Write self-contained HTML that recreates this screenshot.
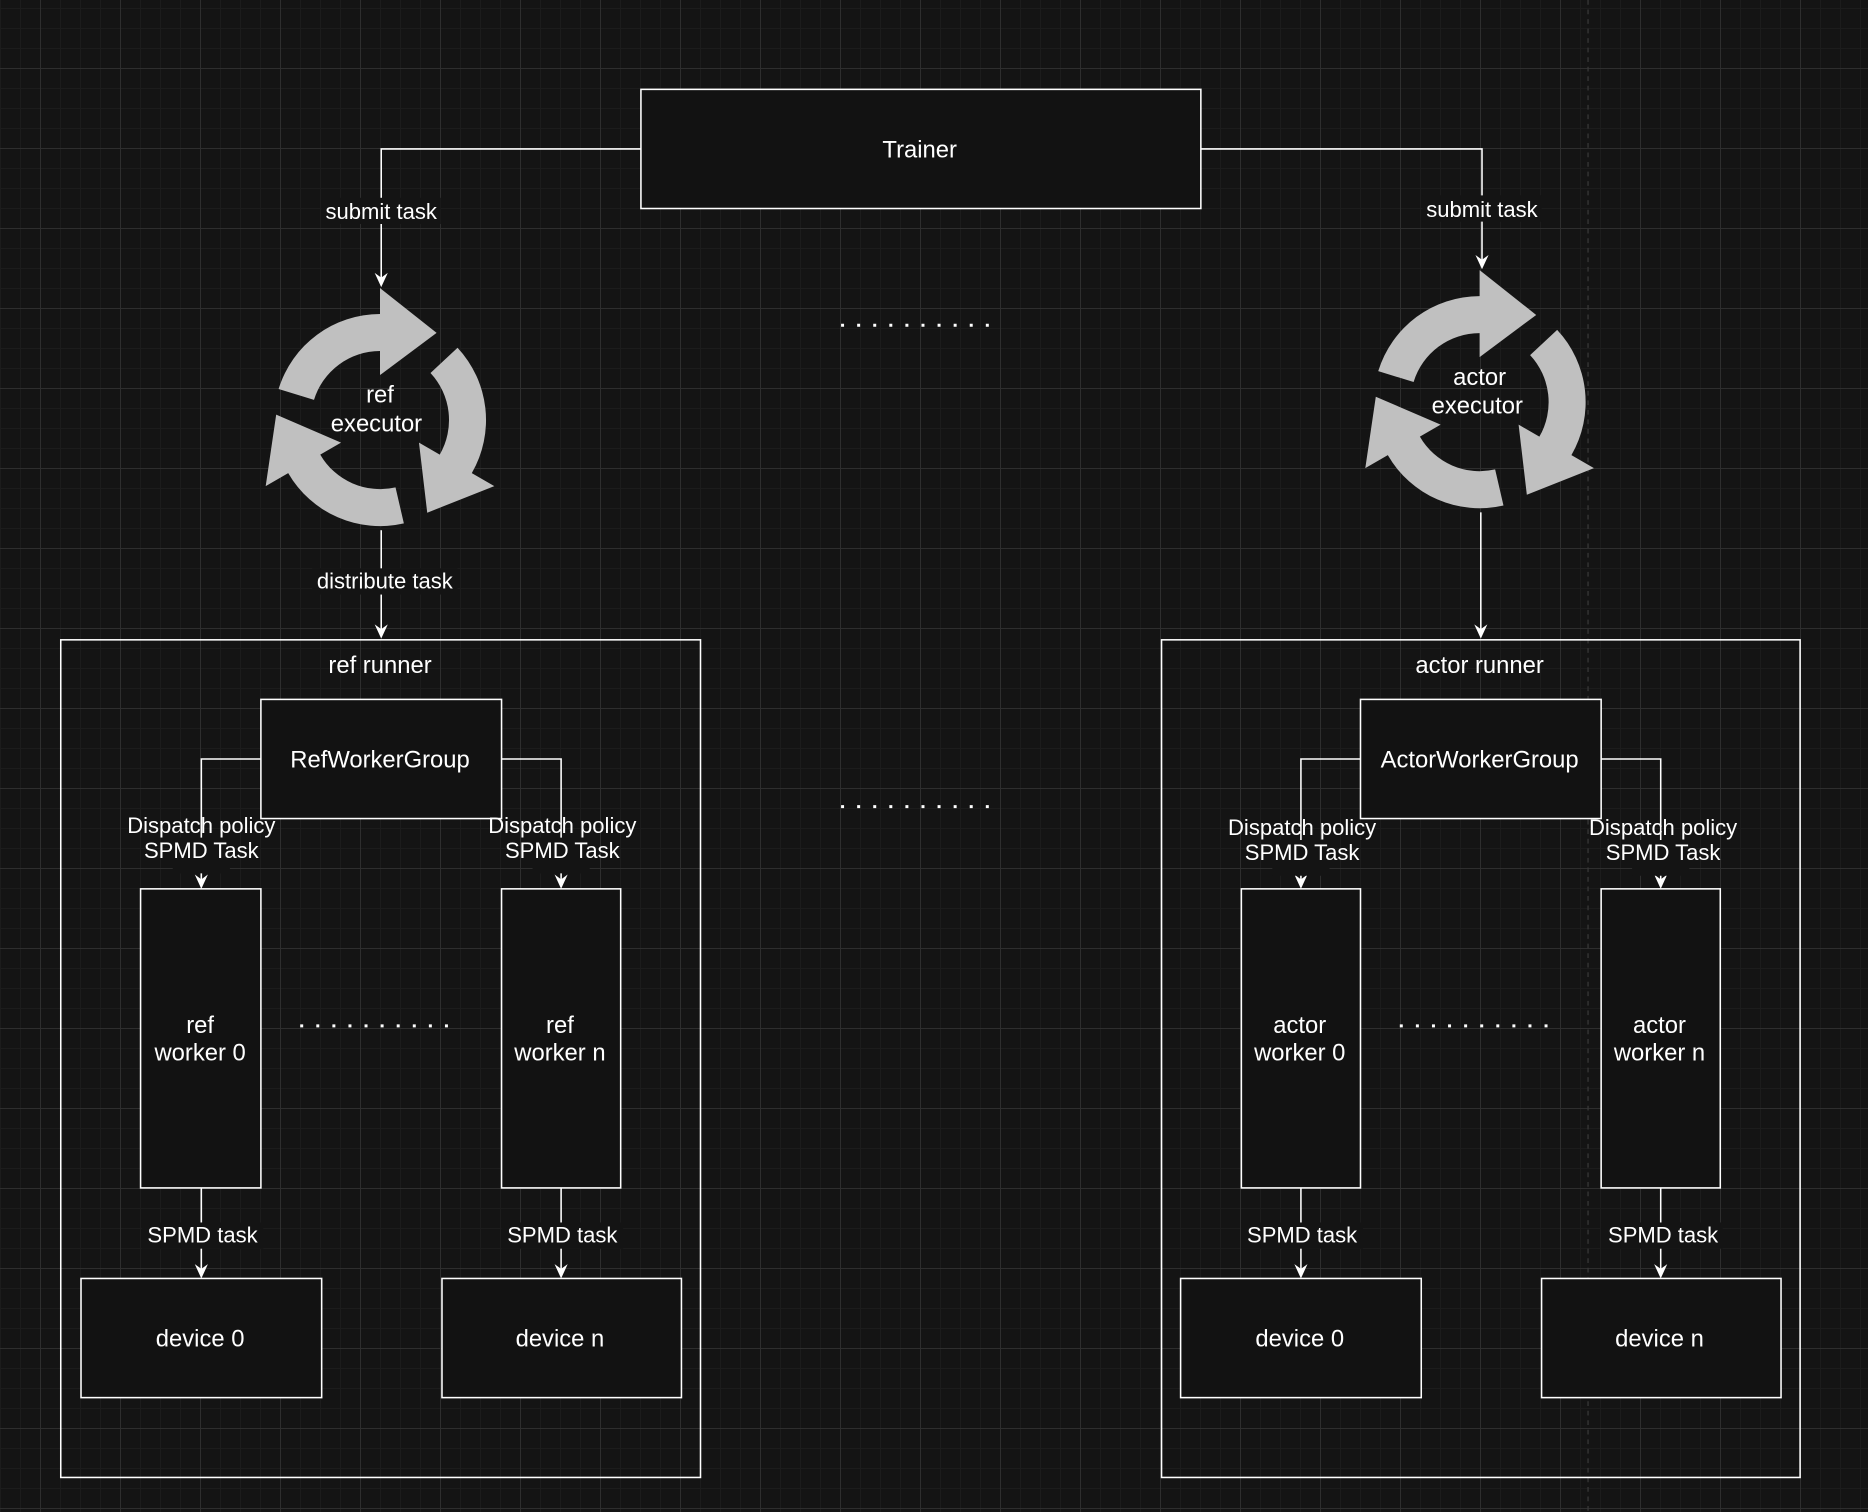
<!DOCTYPE html>
<html><head><meta charset="utf-8"><style>
html,body{margin:0;padding:0;}
body{width:1868px;height:1512px;overflow:hidden;background-color:#141414;
background-image:linear-gradient(#2e2e2e 1px,transparent 1px),linear-gradient(90deg,#2e2e2e 1px,transparent 1px),linear-gradient(#1c1c1c 1px,transparent 1px),linear-gradient(90deg,#1c1c1c 1px,transparent 1px);
background-size:80px 80px,80px 80px,20px 20px,20px 20px;
background-position:0 68px,40px 0,0 8px,0 0;}
svg{position:absolute;left:0;top:0;}
text{font-family:"Liberation Sans",Arial,sans-serif;fill:#fff;text-anchor:middle;}
</style></head><body>
<svg width="1868" height="1512" viewBox="0 0 1568 1269" preserveAspectRatio="none">
<defs>
<path id="ah" d="M0,0 L-5.5,-12 L0,-8 L5.5,-12 Z" fill="#fff"/>
<g id="cyc" fill="#c0c0c0">
<path id="seg" d="M278.6,389 A106,106 0 0 1 380,314 L380,288 L436.6,332.8 L380,375 L380,351 A69,69 0 0 0 314,399.8 Z"/>
<use href="#seg" transform="rotate(120 380 420)"/>
<use href="#seg" transform="rotate(240 380 420)"/>
</g>
</defs>
<line x1="1333" y1="0" x2="1333" y2="1269" stroke="#3a3a3a" stroke-width="1" stroke-dasharray="4 4"/>
<g fill="none" stroke="#fff" stroke-width="1.3">
<polyline points="538,125 320,125 320,238"/>
<polyline points="1008,125 1244,125 1244,223"/>
<line x1="320" y1="445" x2="320" y2="533"/>
<line x1="1243" y1="430" x2="1243" y2="533"/>
<rect x="51" y="537" width="537" height="703"/>
<rect x="975" y="537" width="536" height="703"/>
</g>
<g fill="none" stroke="#fff" stroke-width="1.3">
<polyline points="219,637 169,637 169,743"/>
<polyline points="421,637 471,637 471,743"/>
<polyline points="1142,637 1092,637 1092,743"/>
<polyline points="1344,637 1394,637 1394,743"/>
<line x1="169" y1="997" x2="169" y2="1070"/>
<line x1="471" y1="997" x2="471" y2="1070"/>
<line x1="1092" y1="997" x2="1092" y2="1070"/>
<line x1="1394" y1="997" x2="1394" y2="1070"/>
</g>
<g fill="#121212" stroke="#fff" stroke-width="1.3">
<rect x="538" y="75" width="470" height="100"/>
<rect x="219" y="587" width="202" height="100"/>
<rect x="1142" y="587" width="202" height="100"/>
<rect x="118" y="746" width="101" height="251"/>
<rect x="421" y="746" width="100" height="251"/>
<rect x="1042" y="746" width="100" height="251"/>
<rect x="1344" y="746" width="100" height="251"/>
<rect x="68" y="1073" width="202" height="100"/>
<rect x="371" y="1073" width="201" height="100"/>
<rect x="991" y="1073" width="202" height="100"/>
<rect x="1294" y="1073" width="201" height="100"/>
</g>
<use href="#ah" x="320" y="241"/>
<use href="#ah" x="1244" y="226"/>
<use href="#ah" x="320" y="536"/>
<use href="#ah" x="1243" y="536"/>
<use href="#ah" x="169" y="746"/><use href="#ah" x="471" y="746"/>
<use href="#ah" x="1092" y="746"/><use href="#ah" x="1394" y="746"/>
<use href="#ah" x="169" y="1073"/><use href="#ah" x="471" y="1073"/>
<use href="#ah" x="1092" y="1073"/><use href="#ah" x="1394" y="1073"/>
<g transform="scale(0.83941)">
<use href="#cyc"/>
<use href="#cyc" transform="translate(1099.6,-17.9)"/>
</g>
<g fill="#141414">
<rect x="270" y="166" width="100" height="22"/>
<rect x="1194" y="164" width="100" height="22"/>
<rect x="262" y="477" width="122" height="22"/>
<rect x="119" y="1026" width="102" height="22"/>
<rect x="421" y="1026" width="102" height="22"/>
<rect x="1042" y="1026" width="102" height="22"/>
<rect x="1344" y="1026" width="102" height="22"/>
<rect x="145" y="703" width="48" height="30"/>
<rect x="447" y="703" width="48" height="30"/>
<rect x="1068" y="705" width="48" height="30"/>
<rect x="1370" y="705" width="48" height="30"/>
</g>
<g font-size="20">
<text x="772" y="132">Trainer</text>
<text x="319" y="338">ref</text><text x="316" y="362">executor</text>
<text x="1242" y="323">actor</text><text x="1240" y="347">executor</text>
<text x="319" y="565">ref runner</text>
<text x="1242" y="565">actor runner</text>
<text x="319" y="644">RefWorkerGroup</text>
<text x="1242" y="644">ActorWorkerGroup</text>
<text x="168" y="867">ref</text><text x="168" y="890">worker 0</text>
<text x="470" y="867">ref</text><text x="470" y="890">worker n</text>
<text x="1091" y="867">actor</text><text x="1091" y="890">worker 0</text>
<text x="1393" y="867">actor</text><text x="1393" y="890">worker n</text>
<text x="168" y="1130">device 0</text>
<text x="470" y="1130">device n</text>
<text x="1091" y="1130">device 0</text>
<text x="1393" y="1130">device n</text>
</g>
<g font-size="18.5">
<text x="320" y="184">submit task</text>
<text x="1244" y="182">submit task</text>
<text x="323" y="494">distribute task</text>
<text x="169" y="699">Dispatch policy</text><text x="169" y="720">SPMD Task</text>
<text x="472" y="699">Dispatch policy</text><text x="472" y="720">SPMD Task</text>
<text x="1093" y="701">Dispatch policy</text><text x="1093" y="722">SPMD Task</text>
<text x="1396" y="701">Dispatch policy</text><text x="1396" y="722">SPMD Task</text>
<text x="170" y="1043">SPMD task</text>
<text x="472" y="1043">SPMD task</text>
<text x="1093" y="1043">SPMD task</text>
<text x="1396" y="1043">SPMD task</text>
</g>
<g stroke="#fff" stroke-width="2.5" stroke-dasharray="2.5 11" fill="none">
<line x1="706" y1="273" x2="832" y2="273"/>
<line x1="706" y1="677" x2="832" y2="677"/>
<line x1="252" y1="861" x2="378" y2="861"/>
<line x1="1175" y1="861" x2="1301" y2="861"/>
</g>
</svg>
</body></html>
